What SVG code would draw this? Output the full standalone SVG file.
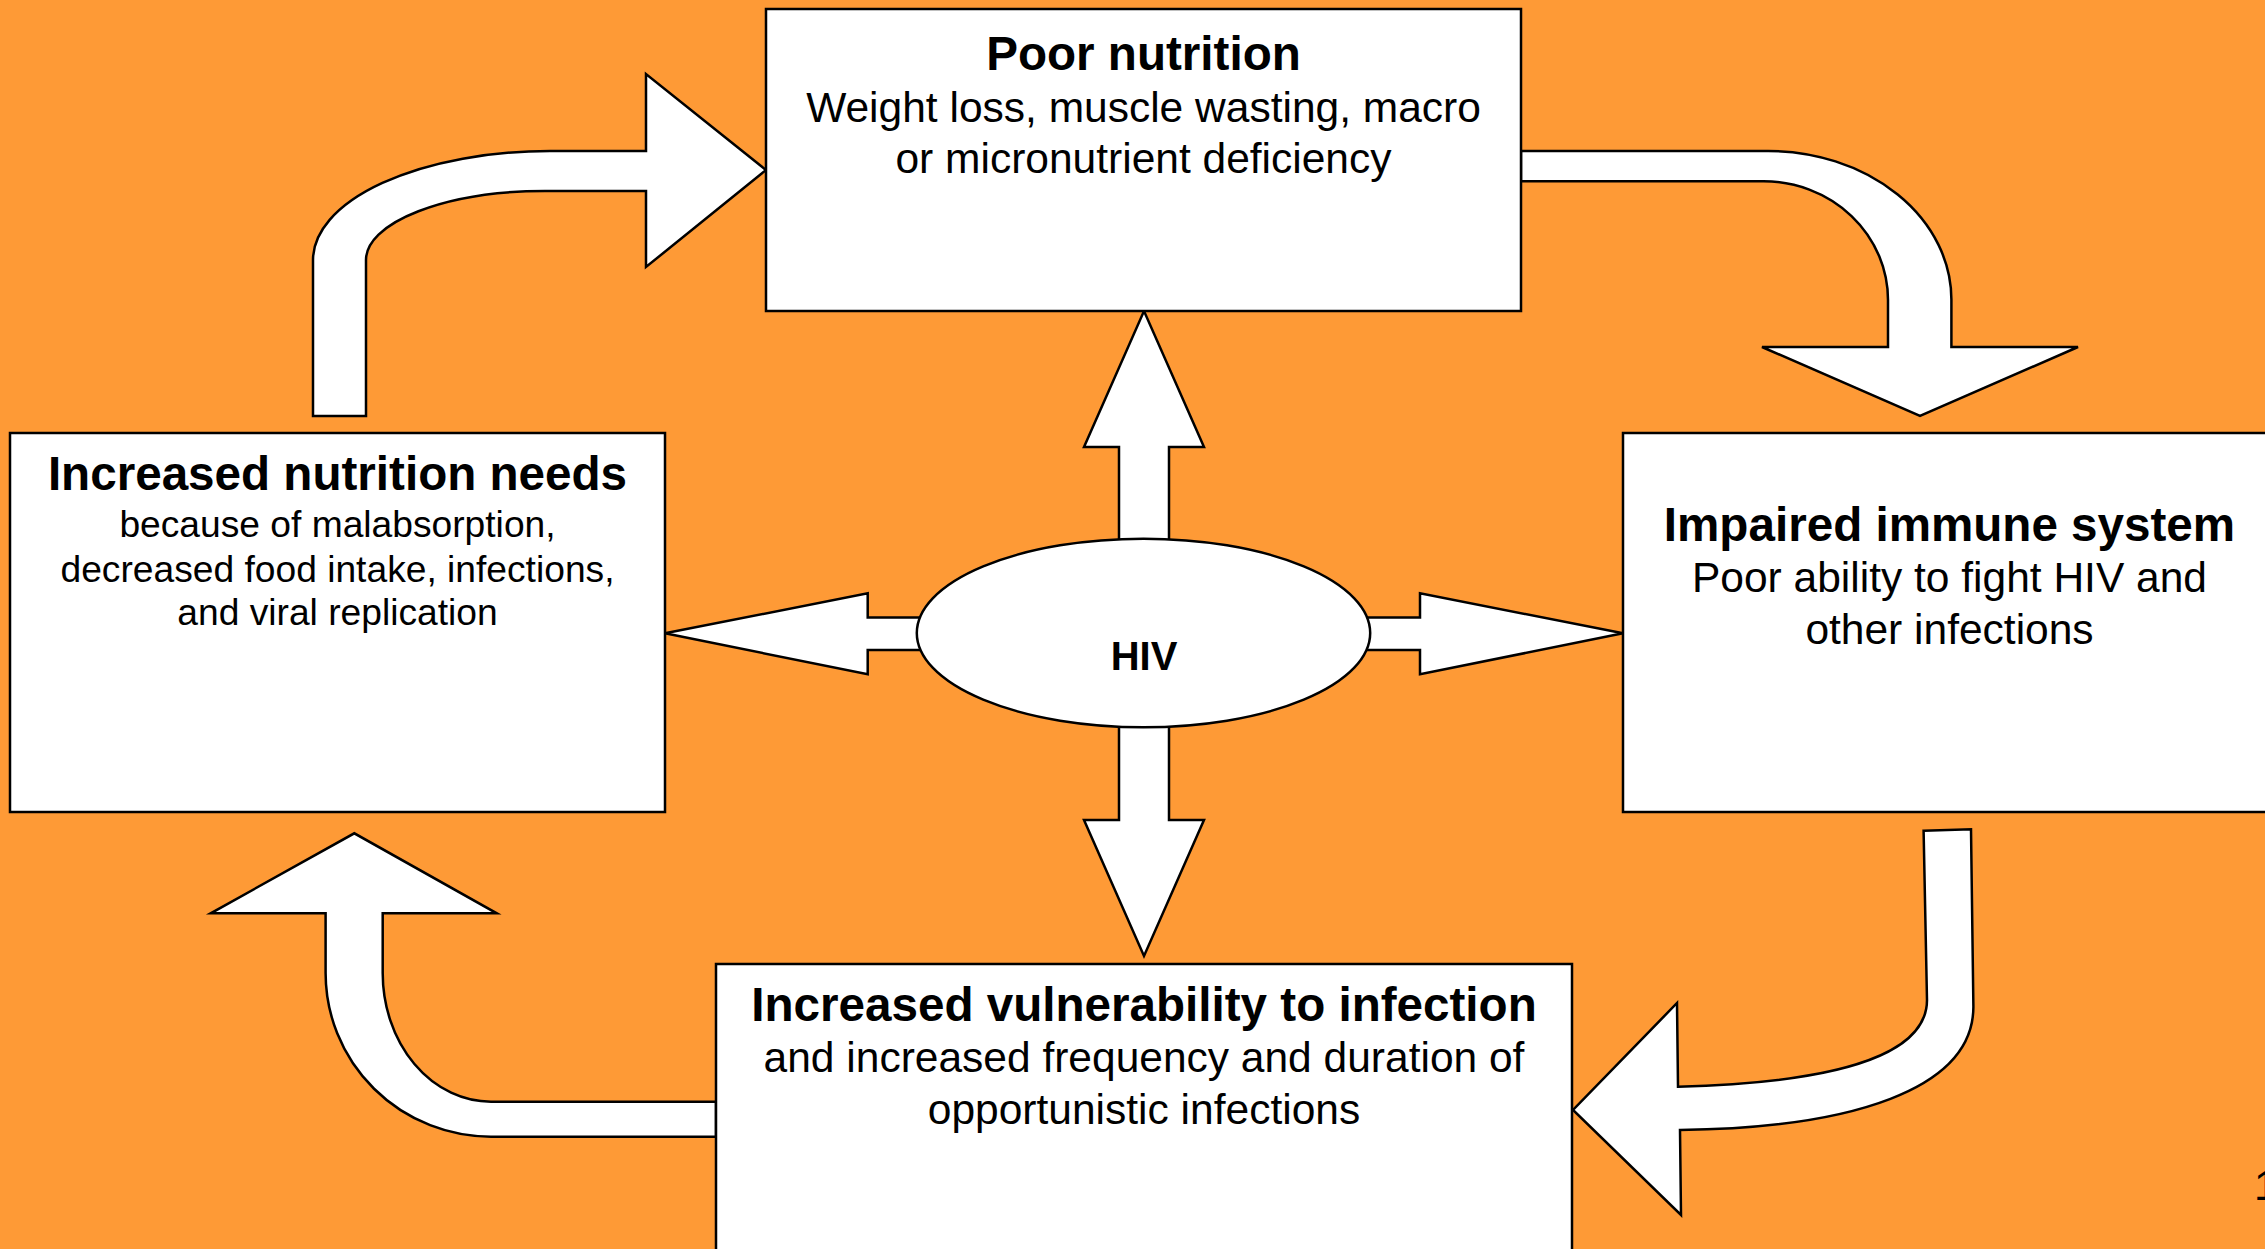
<svg xmlns="http://www.w3.org/2000/svg" width="2265" height="1249" viewBox="0 0 2265 1249">
<style>
.bg{fill:#FE9A36}
.box{fill:#FFFFFF;stroke:#000000;stroke-width:2.5}
.arr{fill:#FFFFFF;stroke:#000000;stroke-width:2.5;stroke-linejoin:miter}
.t{font-family:"Liberation Sans",Arial,sans-serif;font-weight:bold;font-size:47.6px;fill:#000;text-anchor:middle}
.s{font-family:"Liberation Sans",Arial,sans-serif;font-size:42.5px;fill:#000;text-anchor:middle}
.s2{font-family:"Liberation Sans",Arial,sans-serif;font-size:37.2px;fill:#000;text-anchor:middle}
.h{font-family:"Liberation Sans",Arial,sans-serif;font-weight:bold;font-size:40px;fill:#000;text-anchor:middle}
</style>
<rect class="bg" x="0" y="0" width="2265" height="1249"/>
<g id="connectors">
<path id="arrow-needs-to-poor" class="arr" d="M313,416 L313,260 A237,109 0 0 1 550,151 L646,151 L646,74 L766,170 L646,267 L646,191 L545,191 A179,69 0 0 0 366,260 L366,416 Z"/>
<path id="arrow-poor-to-immune" class="arr" d="M1521,151 L1768,151 A183.4,148.6 0 0 1 1951.4,299.6 L1951.4,347 L2078,347 L1920,416 L1762,347 L1888,347 L1888,300 A124.5,118.7 0 0 0 1763.5,181.3 L1521,181.3 Z"/>
<path id="arrow-immune-to-vuln" class="arr" d="M1923.6,830.7 L1971,829.3 L1973.4,1006.7 C1973.4,1090 1850,1128 1680,1130 L1681,1215 L1573,1110 L1677,1003 L1678,1086.7 C1820,1083 1927,1060 1927,1000 Z"/>
<path id="arrow-vuln-to-needs" class="arr" d="M716,1101.7 L491,1101.7 A108.3,128.7 0 0 1 382.7,973 L382.7,913.3 L496.8,913.3 L354.3,833.3 L210.7,913.3 L325.6,913.3 L325.6,973 A165.4,163.7 0 0 0 491,1136.7 L716,1136.7 Z"/>
<path id="arrow-hiv-up" class="arr" d="M1119,560 L1119,447 L1084,447 L1144,311 L1204,447 L1169,447 L1169,560 Z"/>
<path id="arrow-hiv-down" class="arr" d="M1119,705 L1119,820 L1084,820 L1144,956 L1204,820 L1169,820 L1169,705 Z"/>
<path id="arrow-hiv-left" class="arr" d="M940,617.5 L867.7,617.5 L867.7,593.3 L665,633.3 L867.7,674.3 L867.7,650 L940,650 Z"/>
<path id="arrow-hiv-right" class="arr" d="M1350,617.5 L1420,617.5 L1420,593.3 L1623,633.3 L1420,674.3 L1420,650 L1350,650 Z"/>
</g>
<g id="node-poor-nutrition">
<rect class="box" x="766" y="9" width="755" height="302"/>
<text class="t" x="1143.5" y="70">Poor nutrition</text>
<text class="s" x="1143.5" y="122">Weight loss, muscle wasting, macro</text>
<text class="s" x="1143.5" y="173">or micronutrient deficiency</text>
</g>
<g id="node-immune">
<rect class="box" x="1623" y="433" width="660" height="379"/>
<text class="t" x="1949.5" y="540.5">Impaired immune system</text>
<text class="s" x="1949.5" y="592">Poor ability to fight HIV and</text>
<text class="s" x="1949.5" y="643.5">other infections</text>
</g>
<g id="node-vulnerability">
<rect class="box" x="716" y="964" width="856" height="300"/>
<text class="t" x="1144" y="1020.5">Increased vulnerability to infection</text>
<text class="s" x="1144" y="1072">and increased frequency and duration of</text>
<text class="s" x="1144" y="1123.5">opportunistic infections</text>
</g>
<g id="node-needs">
<rect class="box" x="10" y="433" width="655" height="379"/>
<text class="t" x="337.5" y="489.5">Increased nutrition needs</text>
<text class="s2" x="337.5" y="536.5">because of malabsorption,</text>
<text class="s2" x="337.5" y="581.5">decreased food intake, infections,</text>
<text class="s2" x="337.5" y="625">and viral replication</text>
</g>
<g id="node-hiv">
<ellipse class="box" cx="1143.5" cy="633" rx="226.7" ry="94.3"/>
<text class="h" x="1144" y="670">HIV</text>
</g>
<text class="s" x="2254" y="1200" text-anchor="start" style="text-anchor:start">1</text>
</svg>
